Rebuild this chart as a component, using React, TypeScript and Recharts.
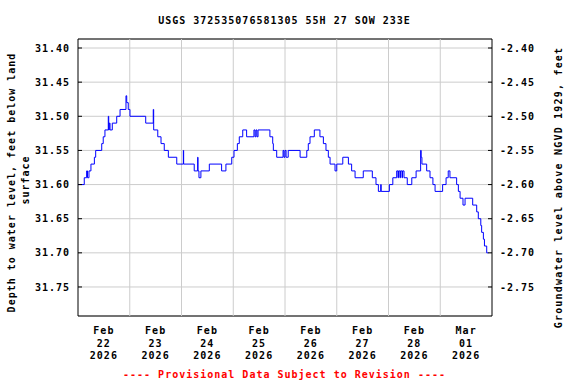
import React from 'react';
import { LineChart, Line, XAxis, YAxis, CartesianGrid, ReferenceLine, ReferenceArea } from 'recharts';

// hours since 2026-02-22 00:00
const hours = [
  0, 2.9, 4.0, 4.4, 5.1, 6.0, 7.6, 8.2, 11.0, 11.7, 12.5, 14.05, 14.25, 14.5, 14.85, 15.9, 17.95, 19.5,
  22.25, 22.6, 23.3, 24.1, 31.4, 34.9, 35.1, 37.0, 38.5, 40.0, 41.9, 45.8, 48.85, 49.0, 53.9, 55.5,
  55.65, 56.1, 57.0, 60.9, 66.6, 68.6, 71.3, 72.35, 73.9, 74.8, 76.4, 78.2, 81.6, 82.1, 82.55, 83.0,
  83.5, 89.0, 90.3, 90.6, 92.15, 95.1, 95.5, 96.0, 96.5, 97.5, 103.0, 106.1, 106.8, 107.6, 109.6,
  112.2, 113.8, 115.0, 116.1, 116.9, 119.2, 120.0, 122.8, 125.4, 126.9, 128.5, 132.3, 136.5, 138.2,
  139.3, 140.4, 140.6, 144.4, 146.0, 147.8, 148.4, 148.65, 149.3, 149.55, 150.25, 150.5, 151.2, 152.7,
  154.8, 156.8, 158.9, 159.15, 159.5, 161.7, 163.25, 164.6, 165.6, 169.1, 170.7, 171.7, 172.5, 175.6,
  176.4, 177.2, 178.55, 179.5, 183.05, 184.9, 185.65, 186.8, 187.2, 188.0, 188.5, 189.55, 190.3,
];

// depth to water level, feet below land surface
const depth = [
  31.60, 31.59, 31.58, 31.59, 31.58, 31.57, 31.56, 31.55, 31.54, 31.53, 31.52, 31.50, 31.52, 31.51, 31.52, 31.51, 31.50, 31.49,
  31.47, 31.48, 31.49, 31.50, 31.51, 31.49, 31.52, 31.53, 31.54, 31.55, 31.56, 31.57, 31.55, 31.57, 31.58, 31.56,
  31.58, 31.59, 31.58, 31.57, 31.58, 31.57, 31.56, 31.55, 31.54, 31.53, 31.52, 31.53, 31.52, 31.53, 31.52, 31.53,
  31.52, 31.53, 31.54, 31.55, 31.56, 31.55, 31.56, 31.55, 31.56, 31.55, 31.56, 31.55, 31.54, 31.53, 31.52,
  31.53, 31.54, 31.55, 31.56, 31.57, 31.58, 31.57, 31.56, 31.57, 31.58, 31.59, 31.58, 31.59, 31.60,
  31.61, 31.60, 31.61, 31.60, 31.59, 31.58, 31.59, 31.58, 31.59, 31.58, 31.59, 31.58, 31.59, 31.60,
  31.59, 31.58, 31.55, 31.56, 31.57, 31.58, 31.59, 31.60, 31.61, 31.60, 31.59, 31.58, 31.59, 31.60,
  31.61, 31.62, 31.63, 31.62, 31.63, 31.64, 31.65, 31.66, 31.67, 31.68, 31.69, 31.70, 31.70,
];

const labelTicks = [12, 36, 60, 84, 108, 132, 156, 180];
const tickMonth = ['Feb', 'Feb', 'Feb', 'Feb', 'Feb', 'Feb', 'Feb', 'Mar'];
const tickDay = ['22', '23', '24', '25', '26', '27', '28', '01'];
const tickYear = ['2026', '2026', '2026', '2026', '2026', '2026', '2026', '2026'];
const dayBoundaries = [24, 48, 72, 96, 120, 144, 168];
const depthTicks = [31.40, 31.45, 31.50, 31.55, 31.60, 31.65, 31.70, 31.75];
const elevTicks = [-2.40, -2.45, -2.50, -2.55, -2.60, -2.65, -2.70, -2.75];

const depthDomain = [31.3868, 31.7925];
const elevDomain = [-2.7925, -2.3868];
const timeDomain = [0, 192];

const data = hours.map((h, i) => ({ h, d: depth[i] }));

const FONT = '"DejaVu Sans Mono", monospace';
const txt = { fontFamily: FONT, fontWeight: 'bold' as const, fontSize: 10, letterSpacing: 1, fill: '#000' };

const XTick = (props: any) => {
  const { x, y, index } = props;
  return (
    <g>
      <text x={x} y={y + 10} textAnchor="middle" {...txt}>{tickMonth[index]}</text>
      <text x={x} y={y + 22.7} textAnchor="middle" {...txt}>{tickDay[index]}</text>
      <text x={x} y={y + 35.3} textAnchor="middle" {...txt}>{tickYear[index]}</text>
    </g>
  );
};

const LeftTick = (props: any) => {
  const { x, y, payload } = props;
  return (
    <g>
      <line x1={x + 8} x2={x + 12} y1={y} y2={y} stroke="#000" />
      <text x={x} y={y} dy="0.36em" textAnchor="end" {...txt}>{Number(payload.value).toFixed(2)}</text>
    </g>
  );
};

const RightTick = (props: any) => {
  const { x, y, payload } = props;
  return (
    <g>
      <line x1={x - 8} x2={x - 12} y1={y} y2={y} stroke="#000" />
      <text x={x} y={y} dy="0.36em" textAnchor="start" {...txt}>{Number(payload.value).toFixed(2)}</text>
    </g>
  );
};

export default function App() {
  return (
    <div style={{ position: 'absolute', left: 0, top: 0, width: 576, height: 384, background: '#fff' }}>
      <LineChart width={576} height={384} data={data} margin={{ top: 39, right: 0, bottom: 0, left: 0 }}>
        <CartesianGrid vertical={false} stroke="#cccccc" />
        {dayBoundaries.map((b) => (
          <ReferenceLine key={b} x={b} stroke="#cccccc" />
        ))}
        <XAxis
          dataKey="h"
          type="number"
          domain={timeDomain}
          ticks={labelTicks}
          interval={0}
          allowDataOverflow
          height={68}
          tickLine={false}
          axisLine={false}
          tickSize={6}
          tickMargin={2}
          tick={<XTick />}
        />
        <YAxis
          type="number"
          domain={depthDomain}
          reversed
          allowDataOverflow
          ticks={depthTicks}
          interval={0}
          width={78}
          tickLine={false}
          axisLine={false}
          tickSize={6}
          tickMargin={2}
          tick={<LeftTick />}
        />
        <YAxis
          yAxisId="right"
          orientation="right"
          type="number"
          domain={elevDomain}
          allowDataOverflow
          ticks={elevTicks}
          interval={0}
          width={84}
          tickLine={false}
          axisLine={false}
          tickSize={6}
          tickMargin={2}
          tick={<RightTick />}
        />
        <Line
          type="stepAfter"
          dataKey="d"
          stroke="#0000ff"
          strokeWidth={1}
          dot={false}
          activeDot={false}
          isAnimationActive={false}
        />
        <ReferenceArea
          x1={timeDomain[0]}
          x2={timeDomain[1]}
          y1={depthDomain[0]}
          y2={depthDomain[1]}
          fill="none"
          fillOpacity={0}
          stroke="#000"
          strokeWidth={1}
        />
      </LineChart>
      <svg width={576} height={384} style={{ position: 'absolute', left: 0, top: 0, pointerEvents: 'none' }}>
        <text x={284.5} y={24} textAnchor="middle" {...txt}>USGS 372535076581305 55H 27 SOW 233E</text>
        <text x={15} y={182.5} transform="rotate(-90, 15, 182.5)" textAnchor="middle" {...txt}>
          Depth to water level, feet below land
        </text>
        <text x={29} y={180} transform="rotate(-90, 29, 180)" textAnchor="middle" {...txt}>surface</text>
        <text x={562} y={187.5} transform="rotate(-90, 562, 187.5)" textAnchor="middle" {...txt} letterSpacing={1.2}>
          Groundwater level above NGVD 1929, feet
        </text>
        <text x={284.5} y={378} textAnchor="middle" {...txt} fill="#ff0000">
          ---- Provisional Data Subject to Revision ----
        </text>
      </svg>
    </div>
  );
}
